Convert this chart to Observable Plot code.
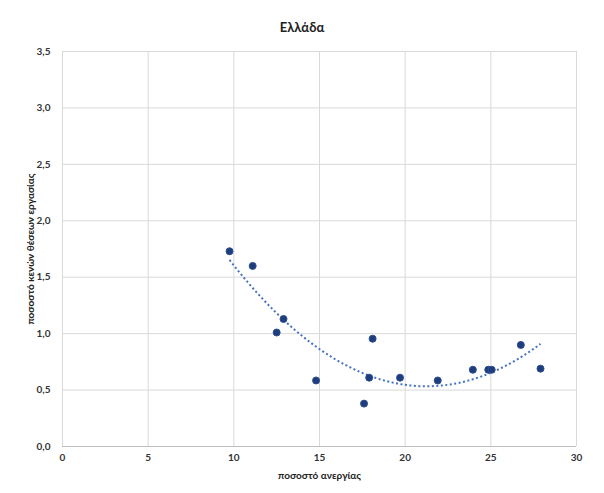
<!DOCTYPE html>
<html>
<head>
<meta charset="utf-8">
<script src="https://cdn.jsdelivr.net/npm/d3@7"></script>
<script src="https://cdn.jsdelivr.net/npm/@observablehq/plot@0.6"></script>
<style>
  body { margin: 0; background: #fff; font-family: Lato, "Open Sans", sans-serif; }
  #title { height: 40px; line-height: 54px; text-align: center; font-size: 13px; font-weight: bold; color: #222; padding-left: 0px; }
</style>
</head>
<body>
<div id="title">Ελλάδα</div>
<div id="chart"></div>
<script>
const unemployment = [9.75, 11.1, 12.5, 12.9, 14.8, 17.6, 17.9, 18.1, 19.7, 21.9, 23.95, 24.85, 25.05, 26.75, 27.9];
const vacancies    = [1.73, 1.60, 1.01, 1.13, 0.585, 0.38, 0.61, 0.955, 0.61, 0.585, 0.68, 0.68, 0.68, 0.90, 0.69];
const xTicks = [0, 5, 10, 15, 20, 25, 30];
const yTicks = [0, 0.5, 1, 1.5, 2, 2.5, 3, 3.5];

const points = unemployment.map((x, i) => ({x, y: vacancies[i]}));

// Quadratic least-squares trendline (as Excel's polynomial order 2)
function polyfit2(xs, ys) {
  let n = xs.length, S = [0,0,0,0,0], T = [0,0,0];
  for (let i = 0; i < n; i++) {
    const x = xs[i], y = ys[i];
    for (let k = 0; k < 5; k++) S[k] += Math.pow(x, k);
    for (let k = 0; k < 3; k++) T[k] += y * Math.pow(x, k);
  }
  const A = [[S[0],S[1],S[2],T[0]],[S[1],S[2],S[3],T[1]],[S[2],S[3],S[4],T[2]]];
  for (let i = 0; i < 3; i++) {
    for (let j = i + 1; j < 3; j++) {
      const f = A[j][i] / A[i][i];
      for (let k = i; k < 4; k++) A[j][k] -= f * A[i][k];
    }
  }
  const c = [0,0,0];
  for (let i = 2; i >= 0; i--) {
    let s = A[i][3];
    for (let k = i + 1; k < 3; k++) s -= A[i][k] * c[k];
    c[i] = s / A[i][i];
  }
  return c;
}
const c = polyfit2(unemployment, vacancies);
const xmin = d3.min(unemployment), xmax = d3.max(unemployment);
const trend = d3.range(0, 101).map(i => {
  const x = xmin + (xmax - xmin) * i / 100;
  return {x, y: c[0] + c[1]*x + c[2]*x*x};
});

const fmt = d => d.toFixed(1).replace(".", ",");

const chart = Plot.plot({
  width: 604,
  height: 453,
  marginLeft: 62,
  marginRight: 28,
  marginTop: 11,
  marginBottom: 47,
  style: {fontFamily: "Lato, 'Open Sans', sans-serif", fontSize: "10px", color: "#333"},
  x: {domain: [0, 30], ticks: xTicks},
  y: {domain: [0, 3.5], ticks: yTicks},
  marks: [
    Plot.gridX(xTicks, {stroke: "#d9d9d9", strokeOpacity: 1, strokeWidth: 1}),
    Plot.gridY(yTicks, {stroke: "#d9d9d9", strokeOpacity: 1, strokeWidth: 1}),
    Plot.ruleY([0], {stroke: "#bfbfbf"}),
    Plot.axisX(xTicks, {tickSize: 0, tickPadding: 7, fontWeight: "bold", fill: "#333", label: null}),
    Plot.axisY(yTicks, {tickSize: 0, tickPadding: 12, fontWeight: "bold", fill: "#333", tickFormat: fmt, label: null}),
    Plot.text(["ποσοστό ανεργίας"], {frameAnchor: "bottom", dy: 29, fontWeight: "bold", fill: "#222", fontSize: 10, lineAnchor: "middle"}),
    Plot.text(["ποσοστό κενών θέσεων εργασίας"], {frameAnchor: "left", dx: -32, rotate: -90, textAnchor: "middle", fontWeight: "bold", fill: "#222", fontSize: 10}),
    Plot.line(trend, {x: "x", y: "y", stroke: "#4472c4", strokeWidth: 2, strokeDasharray: "2,2.5", strokeLinecap: "butt"}),
    Plot.dot(points, {x: "x", y: "y", r: 3.5, fill: "#1f3d7a", stroke: "#2b4f96", strokeWidth: 1})
  ]
});
document.getElementById("chart").appendChild(chart);
</script>
</body>
</html>
